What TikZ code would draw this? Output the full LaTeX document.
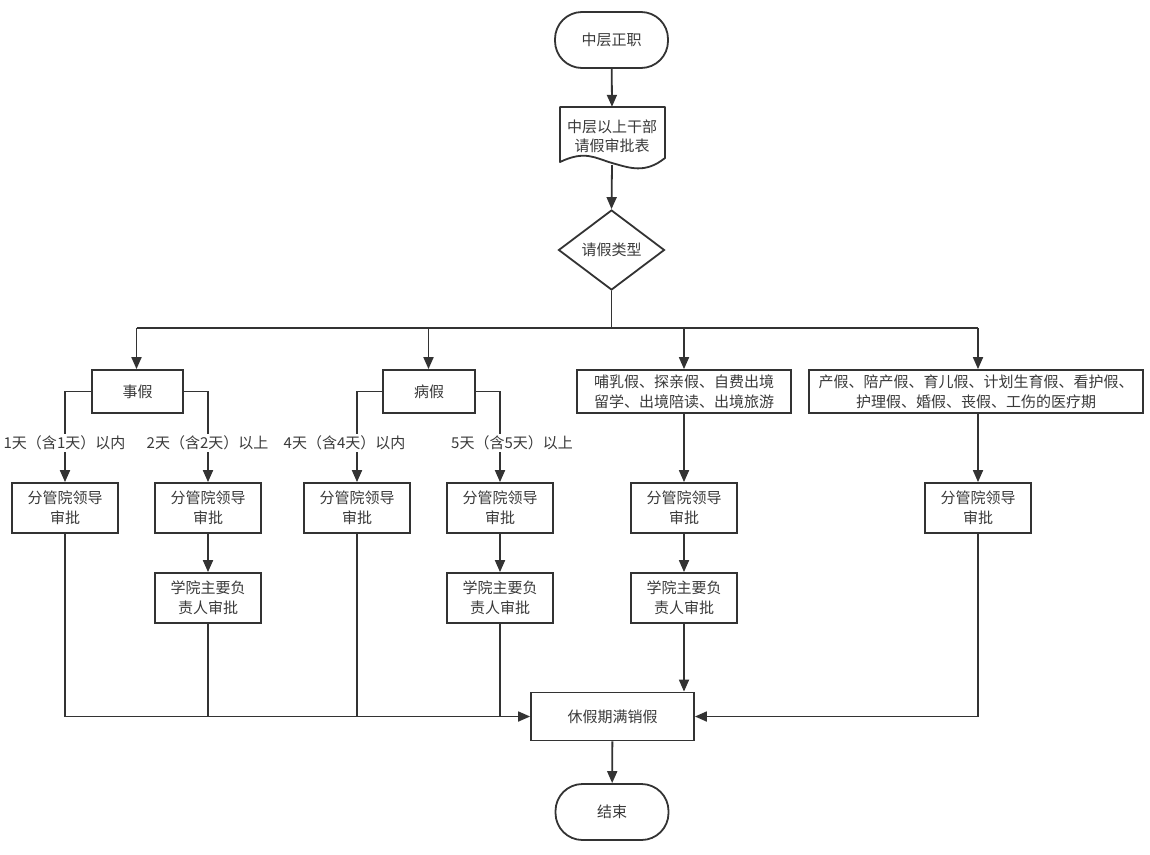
\documentclass[tikz,border=0pt]{standalone}
\usepackage{fontspec}
\setmainfont{Noto Sans CJK SC}
\usetikzlibrary{arrows.meta,shapes.geometric,calc}
\definecolor{ln}{HTML}{333333}
\definecolor{txt}{HTML}{3A3A3A}
\begin{document}
\begin{tikzpicture}[x=1pt,y=-1pt,
  font=\fontsize{15pt}{20pt}\selectfont,
  box/.style={draw=ln, line width=1.8pt, fill=white, text=txt, align=center, inner sep=0pt},
  term/.style={box, rounded corners=27pt, minimum width=113pt, minimum height=56pt},
  appr/.style={box, minimum width=106pt, minimum height=50pt},
  cat/.style={box, minimum height=43pt},
  arr/.style={draw=ln, line width=1.8pt, -{Triangle[length=12pt,width=10pt]}},
  lnn/.style={draw=ln, line width=1.8pt},
  lab/.style={fill=white, text=txt, inner sep=1.5pt}]
\path[use as bounding box, fill=white] (0,0) rectangle (1150,854);

% top
\node[term] (start) at (611.5,40) {中层正职};
\path[draw=ln, line width=1.8pt, fill=white, line join=round]
  (560,107) -- (665,107) -- (665,158)
  .. controls (645,174) and (630,168) .. (612,163)
  .. controls (595,158) and (585,150) .. (560,162) -- cycle;
\node[text=txt, align=center, minimum width=105pt, minimum height=58pt, inner sep=0pt] (doc) at (612,136) {中层以上干部\\[-1pt]请假审批表};
\node[draw=ln, line width=1.8pt, fill=white, text=txt, diamond, minimum width=106pt, minimum height=80pt, inner sep=0pt] (type) at (611.5,250) {请假类型};
\draw[arr] (start) -- (doc.north);
\draw[arr] (doc.south) -- (type.north);

% split
\coordinate (sp) at (611.5,328);
\coordinate (c1) at (136.5,328);
\coordinate (c2) at (428.5,328);
\coordinate (c3) at (684,328);
\coordinate (c4) at (978,328);
\draw[lnn] (type.south) -- (sp);
\draw[lnn] (c1) -- (c4);

% category boxes
\node[cat, minimum width=91pt] (shi) at (137.5,391.5) {事假};
\node[cat, minimum width=92pt] (bing) at (429,391.5) {病假};
\node[cat, minimum width=214pt] (bu) at (684,391.5) {哺乳假、探亲假、自费出境\\留学、出境陪读、出境旅游};
\node[cat, minimum width=334pt] (chan) at (976,391.5) {产假、陪产假、育儿假、计划生育假、看护假、\\护理假、婚假、丧假、工伤的医疗期};
\draw[arr] (c1) -- (c1 |- shi.north);
\draw[arr] (c2) -- (c2 |- bing.north);
\draw[arr] (c3) -- (c3 |- bu.north);
\draw[arr] (c4) -- (c4 |- chan.north);

% approval boxes
\node[appr] (fg1) at (65,508) {分管院领导\\审批};
\node[appr] (fg2) at (208,508) {分管院领导\\审批};
\node[appr] (fg3) at (357,508) {分管院领导\\审批};
\node[appr] (fg4) at (500,508) {分管院领导\\审批};
\node[appr] (fg5) at (684,508) {分管院领导\\审批};
\node[appr] (fg6) at (978,508) {分管院领导\\审批};
\node[appr] (xy2) at (208,598) {学院主要负\\责人审批};
\node[appr] (xy4) at (500,598) {学院主要负\\责人审批};
\node[appr] (xy5) at (684,598) {学院主要负\\责人审批};

\draw[arr] (shi.west) -| (fg1.north);
\draw[arr] (shi.east) -| (fg2.north);
\draw[arr] (bing.west) -| (fg3.north);
\draw[arr] (bing.east) -| (fg4.north);
\draw[arr] (bu.south) -- (fg5.north);
\draw[arr] (chan.south -| fg6.north) -- (fg6.north);
\draw[arr] (fg2) -- (xy2);
\draw[arr] (fg4) -- (xy4);
\draw[arr] (fg5) -- (xy5);

% condition labels
\node[lab] (l1) at (64.5,443) {1天（含1天）以内};
\node[lab] (l2) at (207.5,443) {2天（含2天）以上};
\node[lab] (l3) at (344.5,443) {4天（含4天）以内};
\node[lab] (l4) at (512,443) {5天（含5天）以上};

% end part
\node[box, minimum width=163pt, minimum height=48pt] (done) at (612.5,716.5) {休假期满销假};
\node[term] (fin) at (612,812) {结束};
\draw[arr] (fg1.south) |- (done.west);
\draw[lnn] (xy2.south) -- (xy2.south |- done.west);
\draw[lnn] (fg3.south) -- (fg3.south |- done.west);
\draw[lnn] (xy4.south) -- (xy4.south |- done.west);
\draw[arr] (xy5.south) -- (xy5.south |- done.north);
\draw[arr] (fg6.south) |- (done.east);
\draw[arr] (done) -- (fin);
\end{tikzpicture}
\end{document}
